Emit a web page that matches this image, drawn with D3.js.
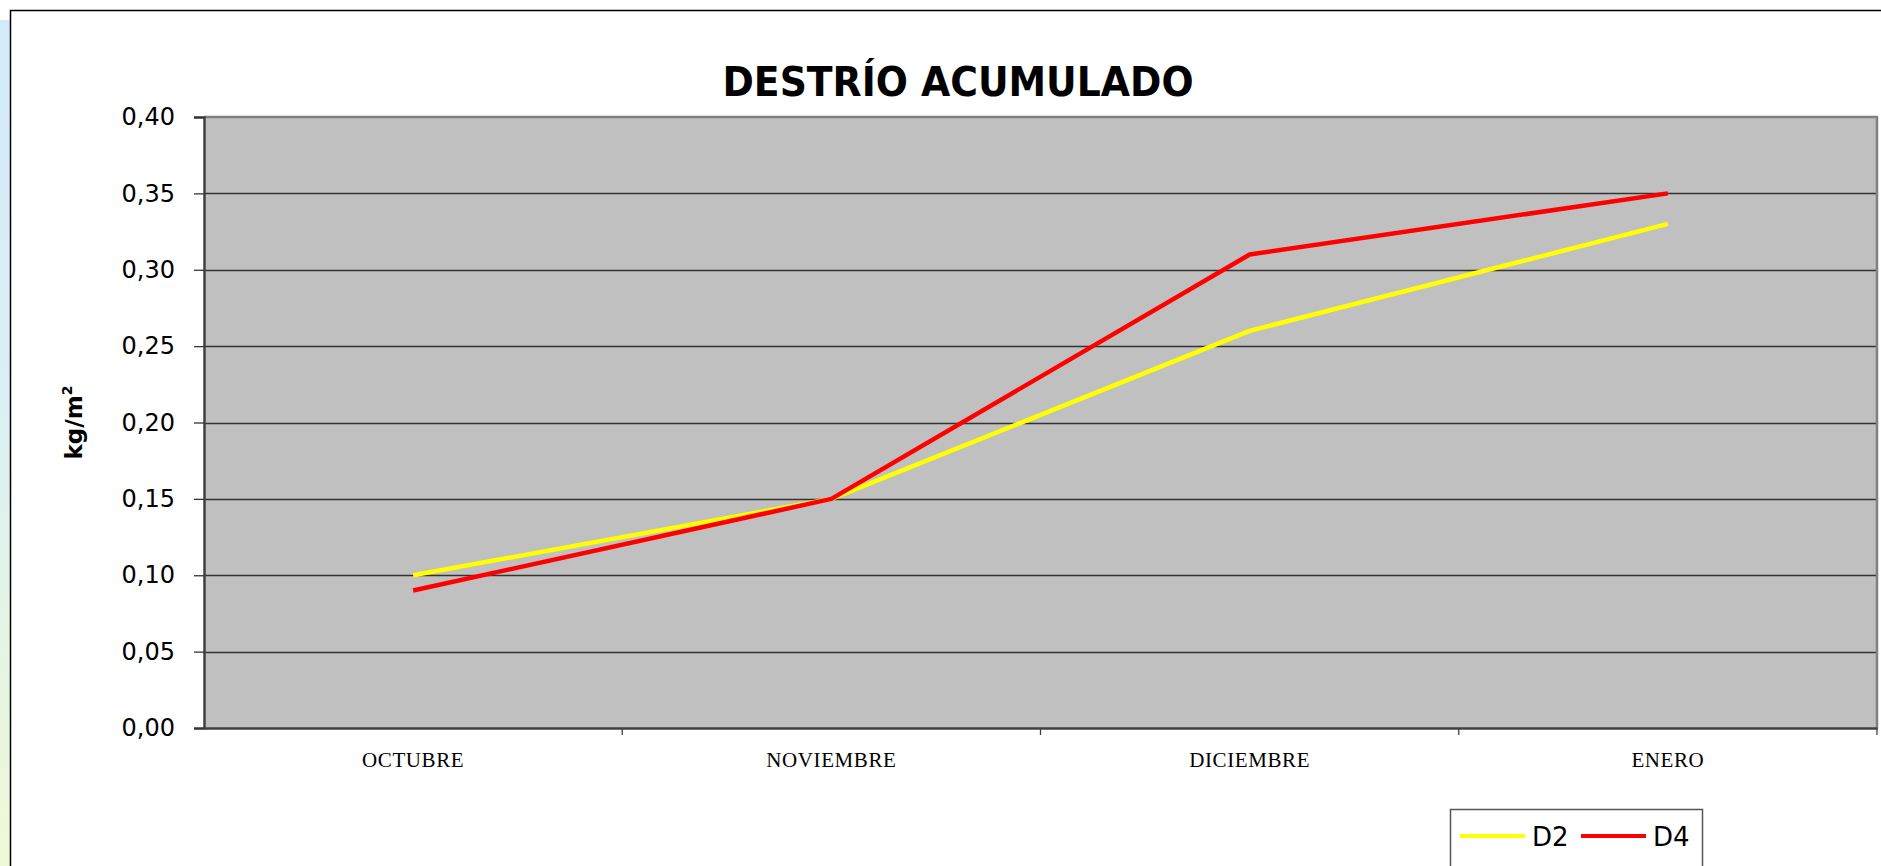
<!DOCTYPE html>
<html>
<head>
<meta charset="utf-8">
<script src="https://cdn.jsdelivr.net/npm/d3@7"></script>
<style>
  html, body { margin: 0; padding: 0; background: #ffffff; overflow: hidden; }
  svg { display: block; }
</style>
</head>
<body>
<svg id="chart" width="1881" height="866"></svg>
<script>
// ---- data ----
const categories = ["OCTUBRE", "NOVIEMBRE", "DICIEMBRE", "ENERO"];
const seriesNames = ["D2", "D4"];
const seriesColors = ["#ffff00", "#ff0000"];
const d2Values = [0.10, 0.15, 0.26, 0.33];
const d4Values = [0.09, 0.15, 0.31, 0.35];
const yTicks = [0, 0.05, 0.10, 0.15, 0.20, 0.25, 0.30, 0.35, 0.40];
const titleText = "DESTRÍO ACUMULADO";
const yAxisTitle = "kg/m";

const series = [
  { name: seriesNames[0], color: seriesColors[0], values: d2Values },
  { name: seriesNames[1], color: seriesColors[1], values: d4Values }
];

const svg = d3.select("#chart");
const W = 1881, H = 866;

// left decorative strip
const defs = svg.append("defs");
const grad = defs.append("linearGradient").attr("id", "strip").attr("x1", 0).attr("y1", 0).attr("x2", 0).attr("y2", 1);
grad.append("stop").attr("offset", "0%").attr("stop-color", "#d2eafb");
grad.append("stop").attr("offset", "45%").attr("stop-color", "#daf0f4");
grad.append("stop").attr("offset", "100%").attr("stop-color", "#f0f9d6");
svg.append("rect").attr("x", 0).attr("y", 20).attr("width", 10).attr("height", H - 20).attr("fill", "url(#strip)");

// chart outer border
svg.append("rect").attr("x", 10.5).attr("y", 10.5).attr("width", W + 20).attr("height", H + 20)
  .attr("fill", "#ffffff").attr("stroke", "#000000").attr("stroke-width", 1.5);

// plot geometry
const plot = { left: 204, top: 117, right: 1877, bottom: 728 };

const x = d3.scaleBand().domain(categories).range([plot.left, plot.right]).padding(0);
const y = d3.scaleLinear().domain([0, 0.40]).range([plot.bottom, plot.top]);

// plot background
svg.append("rect").attr("x", plot.left).attr("y", plot.top)
  .attr("width", plot.right - plot.left).attr("height", plot.bottom - plot.top)
  .attr("fill", "#c0c0c0");

// gridlines
svg.append("g").selectAll("line").data(yTicks.filter(t => t > 0 && t < 0.40)).join("line")
  .attr("x1", plot.left).attr("x2", plot.right)
  .attr("y1", d => Math.round(y(d)) + 0.5).attr("y2", d => Math.round(y(d)) + 0.5)
  .attr("stroke", "#333333").attr("stroke-width", 1.3);

// plot border top & right (gray)
svg.append("line").attr("x1", plot.left).attr("x2", plot.right + 1).attr("y1", plot.top).attr("y2", plot.top)
  .attr("stroke", "#808080").attr("stroke-width", 2.5);
svg.append("line").attr("x1", plot.right).attr("x2", plot.right).attr("y1", plot.top).attr("y2", plot.bottom)
  .attr("stroke", "#808080").attr("stroke-width", 2.5);

// y axis
const locale = d3.formatLocale({ decimal: ",", thousands: ".", grouping: [3], currency: ["", "€"] });
const fmt = locale.format(".2f");
const yAxis = d3.axisLeft(y).tickValues(yTicks).tickFormat(fmt).tickSize(10).tickPadding(19);
const gy = svg.append("g").attr("transform", `translate(${plot.left},0)`).call(yAxis);
gy.select(".domain").attr("stroke", "#404040").attr("stroke-width", 2.5);
gy.selectAll(".tick line").attr("stroke", "#333333").attr("stroke-width", 1.3);
gy.selectAll(".tick text").attr("font-family", "'DejaVu Sans', Verdana, sans-serif")
  .attr("font-size", 24).attr("fill", "#000000");

// x axis
const xAxis = d3.axisBottom(x).tickSize(0).tickPadding(24);
const gx = svg.append("g").attr("transform", `translate(0,${plot.bottom})`).call(xAxis);
gx.select(".domain").attr("stroke", "#404040").attr("stroke-width", 2.5);
gx.selectAll(".tick text").attr("font-family", "'Liberation Serif', 'Times New Roman', serif")
  .attr("font-size", 21).attr("fill", "#000000").attr("letter-spacing", 0.6);
// x tick marks at band boundaries
const boundaries = categories.slice(1).map(c => x(c)).concat([plot.right]);
svg.append("g").selectAll("line").data(boundaries).join("line")
  .attr("x1", d => d).attr("x2", d => d).attr("y1", plot.bottom).attr("y2", plot.bottom + 7)
  .attr("stroke", "#404040").attr("stroke-width", 1.3);

// lines
const line = d3.line().x((d, i) => x(categories[i]) + x.bandwidth() / 2).y(d => y(d));
svg.append("g").selectAll("path").data(series).join("path")
  .attr("d", s => line(s.values))
  .attr("fill", "none").attr("stroke", s => s.color).attr("stroke-width", 4.5)
  .attr("stroke-linejoin", "round");

// title
svg.append("text").attr("x", 958).attr("y", 96).attr("text-anchor", "middle")
  .attr("font-family", "'Comic Sans MS', 'DejaVu Sans', sans-serif").attr("font-weight", "bold")
  .attr("font-size", 40).attr("textLength", 471).attr("lengthAdjust", "spacingAndGlyphs")
  .text(titleText);

// y axis title
const yt = svg.append("text").attr("transform", `translate(82,${(plot.top + plot.bottom) / 2}) rotate(-90)`)
  .attr("text-anchor", "middle")
  .attr("font-family", "'DejaVu Sans', Verdana, sans-serif").attr("font-weight", "bold")
  .attr("font-size", 23).attr("fill", "#000000");
yt.append("tspan").text(yAxisTitle);
yt.append("tspan").attr("font-size", 14).attr("dy", -10).text("2");

// legend
const lg = svg.append("g");
lg.append("rect").attr("x", 1450.5).attr("y", 809.5).attr("width", 252).attr("height", 80)
  .attr("fill", "#ffffff").attr("stroke", "#555555").attr("stroke-width", 1.5);
const items = lg.selectAll("g.item").data(series).join("g").attr("class", "item")
  .attr("transform", (d, i) => `translate(${1460 + i * 121},836)`);
items.append("line").attr("x1", 0).attr("x2", 65).attr("y1", 0).attr("y2", 0)
  .attr("stroke", d => d.color).attr("stroke-width", 4);
items.append("text").attr("x", 72).attr("y", 10)
  .attr("font-family", "'Comic Sans MS', 'DejaVu Sans', sans-serif")
  .attr("font-size", 26).attr("fill", "#000000").text(d => d.name);
</script>
</body>
</html>
